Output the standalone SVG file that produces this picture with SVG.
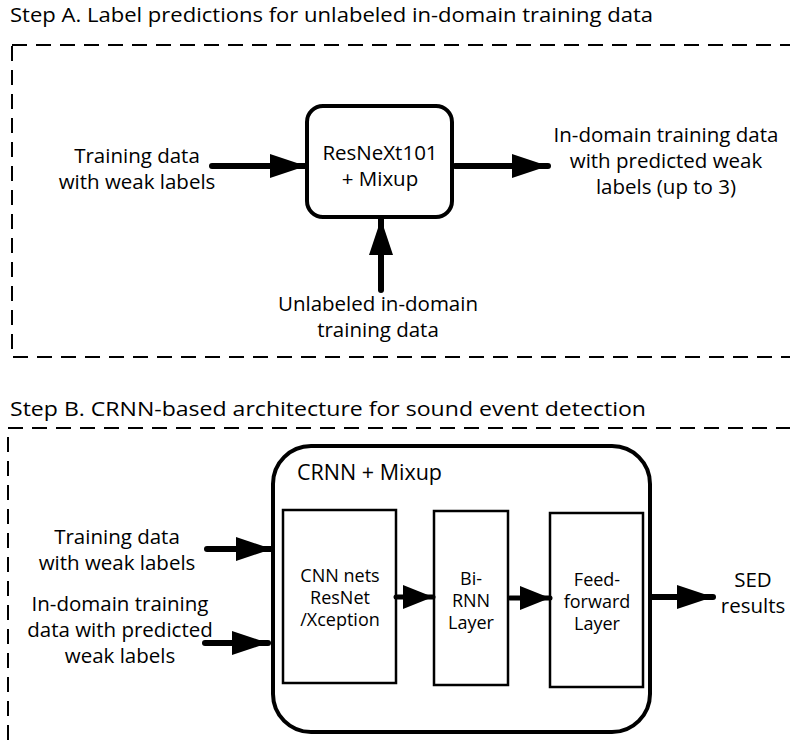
<svg xmlns="http://www.w3.org/2000/svg" width="790" height="742" viewBox="0 0 790 742">
  <defs>
    <marker id="head" markerUnits="userSpaceOnUse" markerWidth="36" markerHeight="24" refX="36" refY="12" orient="auto">
      <path d="M0,0 L36,12 L0,24 z" fill="#000"/>
    </marker>
    <marker id="head-s" markerUnits="userSpaceOnUse" markerWidth="30" markerHeight="24" refX="30" refY="12" orient="auto">
      <path d="M0,0 L30,12 L0,24 z" fill="#000"/>
    </marker>
  </defs>
  <style>
    text { font-family: "Open Sans", "Noto Sans", "DejaVu Sans", sans-serif; fill: #000; }
    .title { font-size: 20px; }
    .lbl { font-size: 20.5px; text-anchor: middle; }
    .inner { font-size: 18px; text-anchor: middle; }
    .frame { fill: none; stroke: #000; stroke-width: 2; stroke-dasharray: 15 9; }
    .block { fill: #fff; stroke: #000; stroke-width: 4; }
    .layer { fill: #fff; stroke: #000; stroke-width: 2.5; }
    .arrow { fill: none; stroke: #000; stroke-width: 6; stroke-linecap: round; marker-end: url(#head); }
    .arrow-s { fill: none; stroke: #000; stroke-width: 5; stroke-linecap: round; marker-end: url(#head-s); }
  </style>
  <rect width="790" height="742" fill="#fff"/>

  <!-- Step A -->
  <text class="title" x="10" y="22" textLength="643" lengthAdjust="spacingAndGlyphs">Step A. Label predictions for unlabeled in-domain training data</text>
  <rect id="frame-a" class="frame" x="12" y="45" width="800" height="312"/>

  <g id="resnext">
    <rect class="block" x="307" y="106" width="145" height="111" rx="16"/>
    <text class="lbl" x="380" y="160">ResNeXt101</text>
    <text class="lbl" x="380" y="186">+ Mixup</text>
  </g>
  <g id="a-input">
    <text class="lbl" x="137" y="163">Training data</text>
    <text class="lbl" x="137" y="189">with weak labels</text>
  </g>
  <g id="a-output">
    <text class="lbl" x="666" y="142">In-domain training data</text>
    <text class="lbl" x="666" y="168">with predicted weak</text>
    <text class="lbl" x="666" y="194">labels (up to 3)</text>
  </g>
  <g id="a-unlabeled">
    <text class="lbl" x="378" y="311">Unlabeled in-domain</text>
    <text class="lbl" x="378" y="337">training data</text>
  </g>

  <!-- Step B -->
  <text class="title" x="10" y="416" textLength="636" lengthAdjust="spacingAndGlyphs">Step B. CRNN-based architecture for sound event detection</text>
  <rect id="frame-b" class="frame" x="8" y="428" width="800" height="340"/>

  <g id="crnn">
    <rect class="block" x="273" y="446" width="377" height="286" rx="38"/>
    <text class="lbl" x="297" y="480" style="text-anchor:start;font-size:21.5px">CRNN + Mixup</text>
  </g>
  <g id="cnn">
    <rect class="layer" x="283" y="510" width="113" height="173"/>
    <text class="inner" x="340" y="582">CNN nets</text>
    <text class="inner" x="340" y="604">ResNet</text>
    <text class="inner" x="340" y="626">/Xception</text>
  </g>
  <g id="birnn">
    <rect class="layer" x="434" y="511" width="74" height="174"/>
    <text class="inner" x="471" y="585">Bi-</text>
    <text class="inner" x="471" y="607">RNN</text>
    <text class="inner" x="471" y="629">Layer</text>
  </g>
  <g id="feedforward">
    <rect class="layer" x="550" y="513" width="93" height="174"/>
    <text class="inner" x="597" y="586">Feed-</text>
    <text class="inner" x="597" y="608">forward</text>
    <text class="inner" x="597" y="630">Layer</text>
  </g>
  <g id="b-input-1">
    <text class="lbl" x="117" y="544">Training data</text>
    <text class="lbl" x="117" y="570">with weak labels</text>
  </g>
  <g id="b-input-2">
    <text class="lbl" x="120" y="611">In-domain training</text>
    <text class="lbl" x="120" y="637">data with predicted</text>
    <text class="lbl" x="120" y="663">weak labels</text>
  </g>
  <g id="sed">
    <text class="lbl" x="753" y="587">SED</text>
    <text class="lbl" x="753" y="613">results</text>
  </g>

  <!-- connectors -->
  <g id="connectors">
    <line class="arrow" x1="212" y1="166" x2="306" y2="166"/>
    <line class="arrow" x1="455" y1="166" x2="548" y2="166"/>
    <line class="arrow" x1="381" y1="290" x2="381" y2="219"/>
    <line class="arrow" x1="207" y1="549" x2="272" y2="549"/>
    <line class="arrow" x1="205" y1="643" x2="268" y2="643"/>
    <line class="arrow-s" x1="396" y1="597" x2="433" y2="597"/>
    <line class="arrow-s" x1="510" y1="598" x2="550" y2="598"/>
    <line class="arrow" x1="652" y1="597" x2="713" y2="597"/>
  </g>
</svg>
